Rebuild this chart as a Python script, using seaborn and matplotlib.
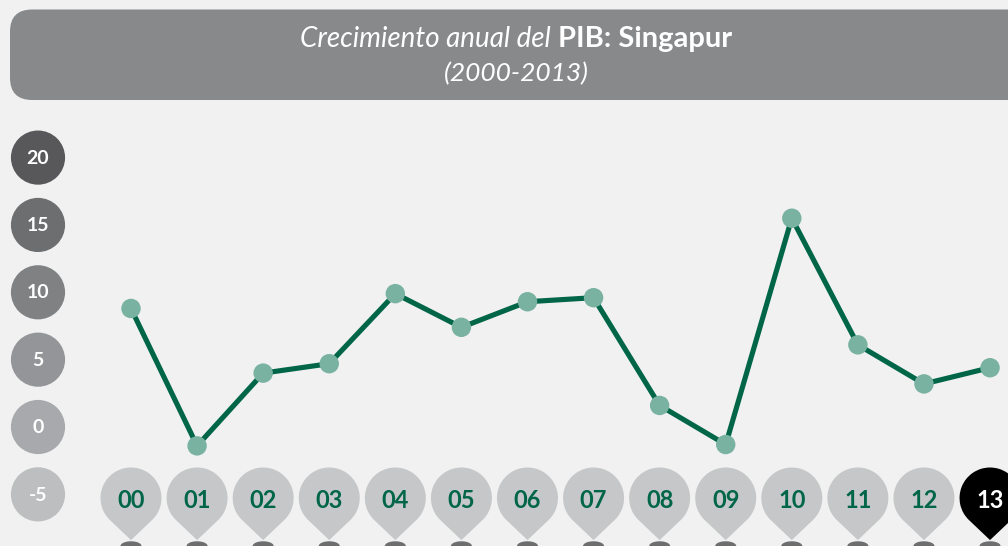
import numpy as np
import pandas as pd
import seaborn as sns
import matplotlib
matplotlib.use("Agg")
import matplotlib.pyplot as plt
from matplotlib.path import Path
from matplotlib.patches import FancyBboxPatch

# ---- data ----
years = ["00", "01", "02", "03", "04", "05", "06", "07", "08", "09", "10", "11", "12", "13"]
growth = [8.8, -1.4, 4.0, 4.7, 9.9, 7.4, 9.3, 9.6, 1.6, -1.3, 15.5, 6.1, 3.2, 4.4]
ytick_values = [20, 15, 10, 5, 0, -5]
ytick_labels = ["20", "15", "10", "5", "0", "-5"]
title_light = "Crecimiento anual del "
title_bold = "PIB: Singapur"
subtitle = "(2000-2013)"

# ---- colours ----
BG = "#f0f1f0"
LINE = "#006647"
MARK = "#7ab2a2"
PIN = "#c6c7c8"
PIN_LAST = "#000000"
SHADOW = "#6d6e70"
TITLE_BOX = "#88898b"
TICK_COLORS = ["#58585a", "#6d6e70", "#808183", "#939598", "#a7a9ac", "#bcbec0"]

sns.set_theme(style="white")
plt.rcParams["font.family"] = ["Lato", "DejaVu Sans"]

W, H = 1008, 546
fig = plt.figure(figsize=(W / 100, H / 100), dpi=100, facecolor=BG)
ax = fig.add_axes([0, 0, 1, 1])
ax.set_facecolor(BG)
for s in ax.spines.values():
    s.set_visible(False)

# pixel-calibrated scales
px_per_x = 66.08
x0_px = 131.0
px_per_y = 13.47
y0_px = 427.0
xmin = -x0_px / px_per_x
xmax = xmin + W / px_per_x
ymax = y0_px / px_per_y
ymin = -(H - y0_px) / px_per_y
ax.set_xlim(xmin, xmax)
ax.set_ylim(ymin, ymax)
ax.set_xticks([])
ax.set_yticks([])

df = pd.DataFrame({"idx": np.arange(len(years)), "year": years, "growth": growth})

# line + markers
sns.lineplot(data=df, x="idx", y="growth", ax=ax, color=LINE, linewidth=3.7,
             zorder=3, legend=False)
ax.scatter(df["idx"], df["growth"], s=14.0 ** 2, color=MARK, edgecolor="none", zorder=4)
ax.set_xlabel("")
ax.set_ylabel("")

# y tick circles
ytick_x = xmin + 38 / px_per_x
for v, lab, c in zip(ytick_values, ytick_labels, TICK_COLORS):
    ax.scatter([ytick_x], [v], s=39.0 ** 2, color=c, edgecolor="none", zorder=2, clip_on=False)
    ax.text(ytick_x, v - 0.05, lab, color="white", fontsize=14, fontweight="bold",
            ha="center", va="center", zorder=5)

# teardrop pin marker
r = 1.0
d = 1.38
alpha = np.degrees(np.arccos(r / d))
arc = Path.arc(-90 + alpha, 270 - alpha)
verts = np.vstack([arc.vertices, [[0, -d]], [arc.vertices[0]]])
codes = list(arc.codes) + [Path.LINETO, Path.CLOSEPOLY]
pin_path = Path(verts, codes)

t = np.linspace(0, 2 * np.pi, 60)
ell_path = Path(np.column_stack([np.cos(t), 0.45 * np.sin(t)]), closed=True)

pin_y = (y0_px - 498) / px_per_y
shadow_y = (y0_px - 546) / px_per_y
pin_ms = 2 * d * 30.5 * 0.72
for i, yr in enumerate(years):
    last = i == len(years) - 1
    ax.scatter([i], [shadow_y], marker=ell_path, s=(21 * 0.72) ** 2, color=SHADOW,
               edgecolor="none", zorder=2, clip_on=False)
    ax.scatter([i], [pin_y], marker=pin_path, s=pin_ms ** 2,
               color=PIN_LAST if last else PIN, edgecolor="none", zorder=3, clip_on=False)
    ax.text(i, (y0_px - 501) / px_per_y, yr, color="white" if last else LINE,
            fontsize=17, fontweight="bold", ha="center", va="center", zorder=6)

# title box
box = FancyBboxPatch((10 / W, 1 - 100 / H), (1030 - 10) / W, 90.5 / H,
                     boxstyle="round,pad=0,rounding_size=0.022",
                     transform=fig.transFigure, facecolor=TITLE_BOX, edgecolor="none",
                     mutation_aspect=W / H, zorder=1)
fig.patches.append(box)

fig.canvas.draw()
renderer = fig.canvas.get_renderer()
cx = 516 / W
ty1 = 1 - 39 / H
t1 = fig.text(0, ty1, title_light, color="white", fontsize=20, fontstyle="italic",
              fontweight="normal", ha="left", va="center")
t2 = fig.text(0, ty1, title_bold, color="white", fontsize=21, fontweight="bold",
              ha="left", va="center")
w1 = t1.get_window_extent(renderer).width / W
w2 = t2.get_window_extent(renderer).width / W
start = cx - (w1 + w2) / 2
t1.set_x(start)
t2.set_x(start + w1)
fig.text(cx, 1 - 74 / H, subtitle, color="white", fontsize=19, fontstyle="italic",
         fontweight="normal", ha="center", va="center")

fig.savefig("out.png", dpi=100, facecolor=BG)
